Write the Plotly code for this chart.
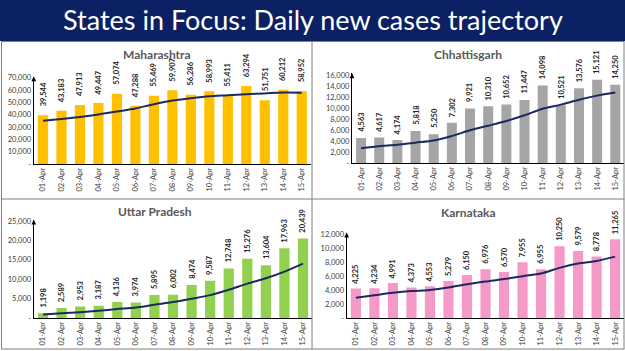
import plotly.graph_objects as go

dates = ["01-Apr", "02-Apr", "03-Apr", "04-Apr", "05-Apr", "06-Apr", "07-Apr", "08-Apr",
         "09-Apr", "10-Apr", "11-Apr", "12-Apr", "13-Apr", "14-Apr", "15-Apr"]

maharashtra = [39544, 43183, 47913, 49447, 57074, 47288, 55469, 59907, 56286, 58993,
               55411, 63294, 51751, 60212, 58952]
maharashtra_trend = [35000, 36500, 38200, 40200, 42600, 45000, 48560, 51470, 53340, 54920,
                     55780, 56660, 57300, 57980, 57840]

chhattisgarh = [4563, 4617, 4174, 5818, 5250, 7302, 9921, 10310, 10652, 11447,
                14098, 10521, 13576, 15121, 14250]
chhattisgarh_trend = [2700, 3050, 3300, 3700, 4100, 4900, 5950, 6770, 7630, 8670,
                      9850, 10610, 11500, 12250, 12810]

uttar_pradesh = [1198, 2589, 2953, 3187, 4136, 3974, 5895, 6002, 8474, 9587,
                 12748, 15276, 13604, 17963, 20439]
uttar_pradesh_trend = [900, 1200, 1500, 1850, 2300, 2700, 3420, 4100, 4950, 5890,
                       7260, 8850, 10230, 11950, 14010]

karnataka = [4225, 4234, 4991, 4373, 4553, 5279, 6150, 6976, 6570, 7955,
             6955, 10250, 9579, 8778, 11265]
karnataka_trend = [2900, 3250, 3600, 3850, 4000, 4350, 4830, 5220, 5560, 5980,
                   6350, 7160, 7780, 8150, 8770]

panels = [
    # name, values, trend, color, tickvals, xdomain, ydomain, yrange, label shift, title px (x, y)
    ("Maharashtra", maharashtra, maharashtra_trend, "#FFC000",
     [0, 10000, 20000, 30000, 40000, 50000, 60000, 70000],
     [0.054, 0.4976], [0.5328, 0.782], [0, 71000], 7, (157, 54)),
    ("Chhattisgarh", chhattisgarh, chhattisgarh_trend, "#A5A5A5",
     [0, 2000, 4000, 6000, 8000, 10000, 12000, 14000, 16000],
     [0.5632, 0.999], [0.5356, 0.791], [0, 16300], 4, (468, 55)),
    ("Uttar Pradesh", uttar_pradesh, uttar_pradesh_trend, "#92D050",
     [0, 5000, 10000, 15000, 20000, 25000],
     [0.054, 0.4997], [0.094, 0.374], [0, 25300], 4, (155, 211)),
    ("Karnataka", karnataka, karnataka_trend, "#F59AC8",
     [0, 2000, 4000, 6000, 8000, 10000, 12000],
     [0.5546, 0.999], [0.094, 0.3373], [0, 12200], 3, (468, 212)),
]

W, H = 625, 351
fig = go.Figure()
annotations = []
shapes = []
layout_axes = {}
tick_font = dict(family="Lato", size=7.5, color="#404040")

for i, (name, vals, trend, color, tv, xd, yd, yr, shift, tpos) in enumerate(panels):
    n = i + 1
    xa = "x" if n == 1 else f"x{n}"
    ya = "y" if n == 1 else f"y{n}"
    fig.add_trace(go.Bar(x=dates, y=vals, marker_color=color, marker_line_width=0,
                         xaxis=xa, yaxis=ya, showlegend=False, hoverinfo="x+y"))
    fig.add_trace(go.Scatter(x=dates, y=trend, mode="lines",
                             line=dict(color="#1B2A5E", width=2, shape="spline", smoothing=0.8),
                             xaxis=xa, yaxis=ya, showlegend=False, hoverinfo="skip"))
    ticktext = ["-"] + [f"{v:,}" for v in tv[1:]]
    layout_axes[("xaxis" if n == 1 else f"xaxis{n}")] = dict(
        domain=xd, anchor=ya, type="category", tickangle=-90, tickfont=tick_font,
        showline=True, linecolor="#000000", linewidth=1.2, ticks="",
        showgrid=False, zeroline=False, fixedrange=True, automargin=False)
    layout_axes[("yaxis" if n == 1 else f"yaxis{n}")] = dict(
        domain=yd, anchor=xa, range=yr, tickvals=tv, ticktext=ticktext, tickfont=tick_font,
        showline=True, linecolor="#000000", linewidth=1.2, ticks="",
        showgrid=False, zeroline=False, fixedrange=True, automargin=False)
    # panel title
    annotations.append(dict(text=f"<b>{name}</b>", x=tpos[0] / W, y=1 - tpos[1] / H,
                            xref="paper", yref="paper", showarrow=False,
                            font=dict(family="Lato", size=12, color="#595959"),
                            xanchor="center", yanchor="middle"))
    # data labels
    for d, v in zip(dates, vals):
        annotations.append(dict(text=f"<b>{v:,}</b>", x=d, y=v, xref=xa, yref=ya,
                                textangle=-90, showarrow=False, yanchor="bottom",
                                yshift=shift, font=dict(family="Lato", size=7.5, color="#262626")))
    # axis arrow tip
    annotations.append(dict(x=0, y=yr[1], xref=f"{xa} domain", yref=ya, ax=0, ay=6,
                            showarrow=True, arrowhead=2, arrowsize=0.8, arrowwidth=1.2,
                            arrowcolor="#000000", text=""))

# title banner
shapes.append(dict(type="rect", xref="paper", yref="paper", x0=0, x1=1, y0=1 - 41 / H, y1=1,
                   fillcolor="#0C2064", line_width=0, layer="below"))
# panel borders
border = dict(color="#7F7F7F", width=1)
for y in [41.5, 199, 349]:
    shapes.append(dict(type="line", xref="paper", yref="paper", x0=0.002, x1=0.999,
                       y0=1 - y / H, y1=1 - y / H, line=border))
for x in [1.5, 312, 624]:
    shapes.append(dict(type="line", xref="paper", yref="paper", x0=x / W, x1=x / W,
                       y0=1 - 41.5 / H, y1=1 - 349 / H, line=border))

annotations.append(dict(text="States in Focus: Daily new cases trajectory", x=0.5, y=1 - 20 / H,
                        xref="paper", yref="paper", showarrow=False, xanchor="center",
                        yanchor="middle", font=dict(family="Lato", size=27, color="#FFFFFF")))

fig.update_layout(width=W, height=H, margin=dict(l=0, r=0, t=0, b=0),
                  paper_bgcolor="#FFFFFF", plot_bgcolor="#FFFFFF", bargap=0.45,
                  annotations=annotations, shapes=shapes, **layout_axes)

fig.write_html("out.html")
